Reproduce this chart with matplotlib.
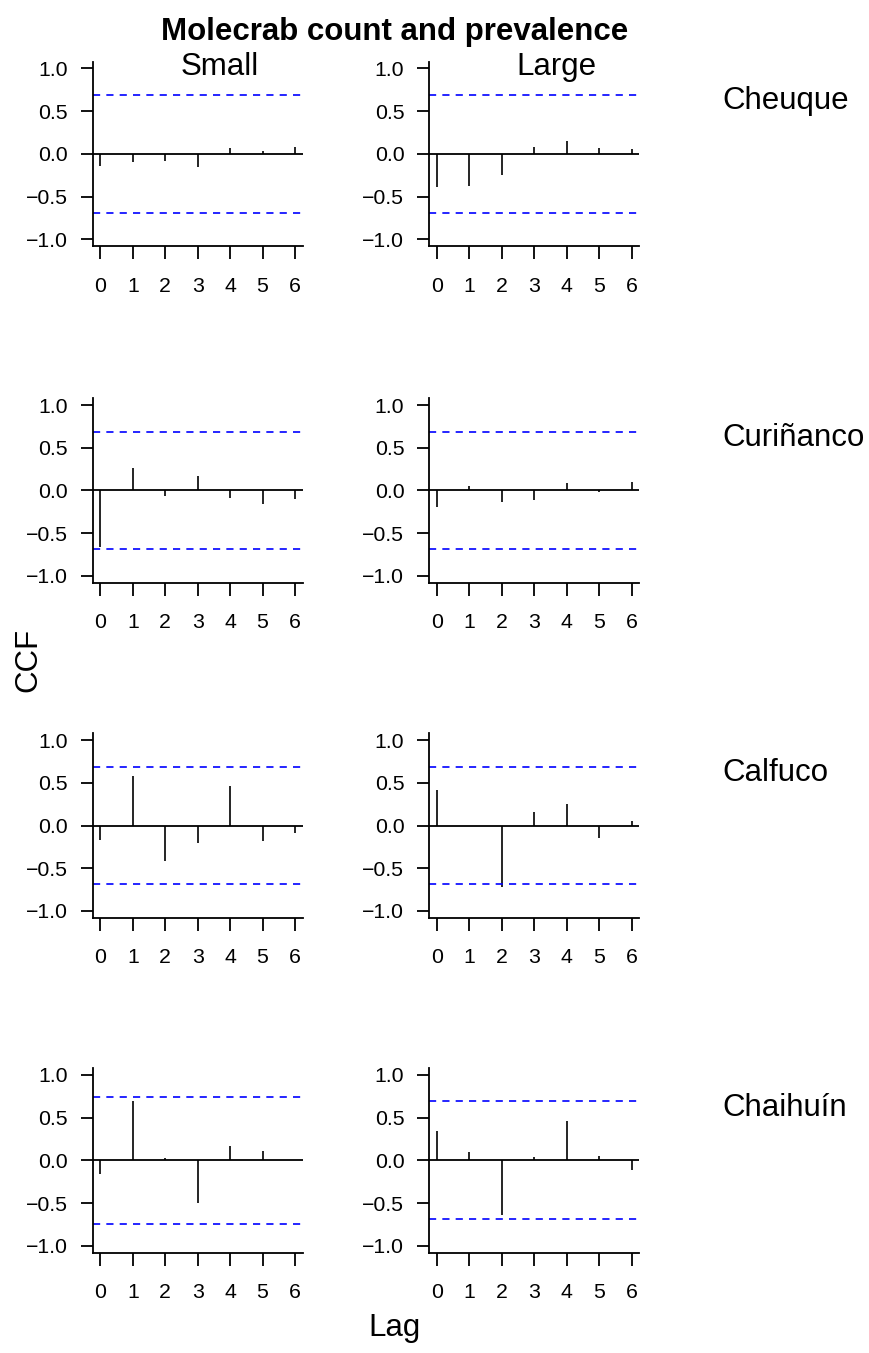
import matplotlib
matplotlib.use("Agg")
import matplotlib.pyplot as plt
import numpy as np

plt.rcParams['font.family'] = ['Liberation Sans', 'DejaVu Sans']

lags = [0, 1, 2, 3, 4, 5, 6]
sites = ["Cheuque", "Curiñanco", "Calfuco", "Chaihuín"]
sizes = ["Small", "Large"]

# cross-correlation at each lag, per site, small then large
cheuque_small = [-0.14, -0.10, -0.09, -0.15, 0.07, 0.03, 0.085]
cheuque_large = [-0.39, -0.38, -0.25, 0.08, 0.15, 0.07, 0.055]
curinanco_small = [-0.66, 0.26, -0.07, 0.17, -0.09, -0.16, -0.10]
curinanco_large = [-0.19, 0.05, -0.14, -0.11, 0.09, -0.02, 0.10]
calfuco_small = [-0.17, 0.58, -0.42, -0.21, 0.46, -0.18, -0.09]
calfuco_large = [0.41, 0.0, -0.72, 0.16, 0.25, -0.15, 0.05]
chaihuin_small = [-0.155, 0.70, 0.03, -0.50, 0.17, 0.11, 0.0]
chaihuin_large = [0.34, 0.10, -0.64, 0.035, 0.46, 0.055, -0.11]

# significance bounds (+/-)
conf_small = [0.69, 0.69, 0.69, 0.74]
conf_large = [0.69, 0.69, 0.69, 0.69]

ccf = [[cheuque_small, cheuque_large],
       [curinanco_small, curinanco_large],
       [calfuco_small, calfuco_large],
       [chaihuin_small, chaihuin_large]]
conf = [[conf_small[i], conf_large[i]] for i in range(4)]

W, H = 870, 1353
fig = plt.figure(figsize=(W / 100, H / 100), dpi=100)

col_x = [92.7, 429.3]
row_top = [61.5, 398.2, 733.2, 1068.1]
pw, ph = 210, 184.6
big = 22.5
small = 15.3


def px_rect(x, top, w, h):
    return [x / W, 1 - (top + h) / H, w / W, h / H]


for r in range(4):
    for c in range(2):
        ax = fig.add_axes(px_rect(col_x[c], row_top[r], pw, ph))
        vals = ccf[r][c]
        ax.vlines(lags, 0, vals, color='black', lw=1.2)
        ax.axhline(0, color='black', lw=1.3)
        ci = conf[r][c]
        for s in (ci, -ci):
            ax.axhline(s, color='#0000ff', lw=1.2, linestyle=(0, (4.3, 3.7)))
        ax.set_xlim(-0.24, 6.24)
        ax.set_ylim(-1.08, 1.08)
        ax.set_xticks(lags)
        ax.set_yticks([-1.0, -0.5, 0.0, 0.5, 1.0])
        ax.set_yticklabels(["\u22121.0", "\u22120.5", "0.0", "0.5", "1.0"])
        for side in ('top', 'right'):
            ax.spines[side].set_visible(False)
        for side in ('left', 'bottom'):
            ax.spines[side].set_linewidth(1.3)
        ax.tick_params(axis='both', length=9, width=1.3, labelsize=small)
        ax.tick_params(axis='x', pad=13)
        ax.tick_params(axis='y', pad=9)

# titles and margin labels
fig.text(395 / W, 1 - 40 / H, "Molecrab count and prevalence", ha='center',
         va='baseline', fontsize=big, fontweight='bold')
fig.text(220 / W, 1 - 75 / H, sizes[0], ha='center', va='baseline', fontsize=big)
fig.text(556 / W, 1 - 75 / H, sizes[1], ha='center', va='baseline', fontsize=big)
for r, name in enumerate(sites):
    fig.text(722 / W, 1 - (row_top[r] + 40) / H, name, ha='left',
             va='center', fontsize=big)
fig.text(28 / W, 1 - 660 / H, "CCF", rotation=90, ha='center', va='center',
         fontsize=big)
fig.text(395 / W, 1 - 1336 / H, "Lag", ha='center', va='baseline',
         fontsize=big)

fig.savefig("out.png", dpi=100)
